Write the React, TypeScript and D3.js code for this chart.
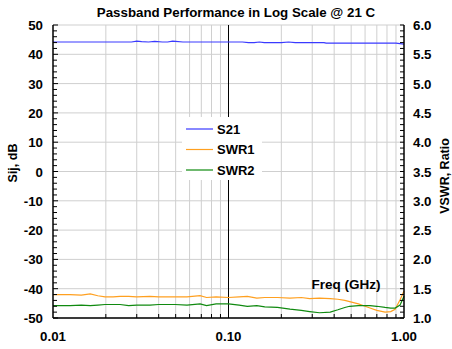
import React from 'react';
import * as d3 from 'd3';

const title = 'Passband Performance in Log Scale @ 21 C';
const leftTicks = [50, 40, 30, 20, 10, 0, -10, -20, -30, -40, -50];
const rightTicks = [6.0, 5.5, 5.0, 4.5, 4.0, 3.5, 3.0, 2.5, 2.0, 1.5, 1.0];
const xTickLabels = ['0.01', '0.10', '1.00'];
const xTickValues = [0.01, 0.1, 1];

// S21 in dB (left axis)
const s21Freq = [0.01, 0.02, 0.028, 0.03, 0.032, 0.035, 0.038, 0.042, 0.045, 0.048, 0.05, 0.055, 0.07, 0.1, 0.12, 0.13, 0.14, 0.15, 0.16, 0.2, 0.22, 0.24, 0.3, 0.35, 0.36, 0.5, 0.7, 0.9, 1.0];
const s21 = [44.2, 44.2, 44.2, 44.5, 44.3, 44.2, 44.4, 44.2, 44.2, 44.5, 44.4, 44.2, 44.2, 44.2, 44.2, 44.0, 44.0, 44.2, 44.0, 44.0, 44.2, 44.0, 44.0, 44.0, 43.8, 43.8, 43.8, 43.8, 43.5];

// VSWR ratio (right axis)
const swrFreq = [0.01, 0.0125, 0.0145, 0.0163, 0.018, 0.0198, 0.022, 0.0241, 0.027, 0.03, 0.0357, 0.04, 0.0496, 0.058, 0.0689, 0.075, 0.085, 0.1, 0.115, 0.128, 0.145, 0.161, 0.19, 0.224, 0.26, 0.29, 0.33, 0.38, 0.42, 0.46, 0.49, 0.55, 0.6, 0.64, 0.7, 0.78, 0.84, 0.89, 0.95, 1.0];
const swr1 = [1.40, 1.40, 1.39, 1.41, 1.38, 1.36, 1.36, 1.37, 1.37, 1.36, 1.37, 1.36, 1.36, 1.36, 1.38, 1.35, 1.36, 1.35, 1.36, 1.37, 1.34, 1.35, 1.35, 1.34, 1.35, 1.33, 1.34, 1.33, 1.32, 1.30, 1.28, 1.24, 1.20, 1.17, 1.13, 1.10, 1.11, 1.15, 1.31, 1.46];
const swr2 = [1.21, 1.21, 1.22, 1.21, 1.22, 1.23, 1.23, 1.23, 1.21, 1.22, 1.22, 1.23, 1.23, 1.22, 1.24, 1.21, 1.24, 1.24, 1.22, 1.20, 1.21, 1.19, 1.18, 1.15, 1.13, 1.11, 1.09, 1.10, 1.14, 1.18, 1.20, 1.21, 1.21, 1.21, 1.20, 1.18, 1.17, 1.17, 1.22, 1.37];

const seriesNames = ['S21', 'SWR1', 'SWR2'];
const seriesColors = ['#3a3aff', '#ffa020', '#108a10'];

const W = 452, H = 349;
const m = { left: 53, right: 404, top: 25, bottom: 318 };
const font = '"Liberation Sans", Arial, sans-serif';

export default function App() {
  const x = d3.scaleLog().domain([0.01, 1]).range([m.left, m.right]);
  const yL = d3.scaleLinear().domain([-50, 50]).range([m.bottom, m.top]);
  const yR = d3.scaleLinear().domain([1, 6]).range([m.bottom, m.top]);

  const minorX: number[] = [];
  [0.01, 0.1].forEach(d => { for (let k = 2; k <= 9; k++) minorX.push(d * k); });
  const minorL = d3.range(-50, 51, 2);
  const minorR = d3.range(1, 6.001, 0.1);

  const lineL = d3.line<number>().x((_, i) => x(s21Freq[i])).y(d => yL(d));
  const lineR = (f: number[]) => d3.line<number>().x((_, i) => x(f[i])).y(d => yR(d));

  const legend = { x: 182, y: 117, w: 80, h: 63 };

  return (
    <svg width={W} height={H} style={{ position: 'absolute', left: 0, top: 0, background: '#fff' }}
      fontFamily={font} fontWeight="bold">
      <text x={236} y={17} textAnchor="middle" fontSize={13.3}>{title}</text>
      {/* grid */}
      {leftTicks.map(t => (
        <line key={'h' + t} x1={m.left} x2={m.right} y1={yL(t)} y2={yL(t)} stroke="#cfcfcf" />
      ))}
      {minorX.map(f => (
        <line key={'v' + f} x1={x(f)} x2={x(f)} y1={m.top} y2={m.bottom} stroke="#cfcfcf" />
      ))}
      <line x1={x(0.1)} x2={x(0.1)} y1={m.top} y2={m.bottom} stroke="#000" />
      {/* legend box */}
      <rect x={legend.x} y={legend.y} width={legend.w} height={legend.h} fill="#fff" />
      {seriesNames.map((s, i) => (
        <g key={s}>
          <line x1={186} x2={213} y1={129 + i * 20.5} y2={129 + i * 20.5} stroke={seriesColors[i]} strokeWidth={1.2} />
          <text x={217} y={133.5 + i * 20.5} fontSize={13}>{s}</text>
        </g>
      ))}
      {/* data */}
      <path d={lineL(s21) || ''} fill="none" stroke={seriesColors[0]} strokeWidth={1.2} />
      <path d={lineR(swrFreq)(swr1) || ''} fill="none" stroke={seriesColors[1]} strokeWidth={1.2} />
      <path d={lineR(swrFreq)(swr2) || ''} fill="none" stroke={seriesColors[2]} strokeWidth={1.2} />
      {/* axes */}
      <line x1={m.left} x2={m.left} y1={m.top} y2={m.bottom} stroke="#000" strokeWidth={1.5} />
      <line x1={m.right} x2={m.right} y1={m.top} y2={m.bottom} stroke="#000" strokeWidth={1.5} />
      <line x1={m.left} x2={m.right} y1={m.bottom} y2={m.bottom} stroke="#000" strokeWidth={1.5} />
      {minorL.map(t => (
        <line key={'tl' + t} x1={m.left} x2={m.left + (t % 10 === 0 ? 5 : 4)} y1={yL(t)} y2={yL(t)} stroke="#000" />
      ))}
      {minorR.map(t => (
        <line key={'tr' + t} x1={m.right} x2={m.right - 4} y1={yR(t)} y2={yR(t)} stroke="#000" />
      ))}
      {minorX.map(f => (
        <line key={'tb' + f} x1={x(f)} x2={x(f)} y1={m.bottom} y2={m.bottom - 4} stroke="#000" />
      ))}
      {/* tick labels */}
      {leftTicks.map(t => (
        <text key={'ll' + t} x={43} y={yL(t) + 5} textAnchor="end" fontSize={13.3}>{t}</text>
      ))}
      {rightTicks.map(t => (
        <text key={'rl' + t} x={413} y={yR(t) + 5} textAnchor="start" fontSize={13.3}>{t.toFixed(1)}</text>
      ))}
      {xTickValues.map((v, i) => (
        <text key={'xl' + v} x={x(v)} y={341} textAnchor="middle" fontSize={13.3}>{xTickLabels[i]}</text>
      ))}
      <text x={346} y={289} textAnchor="middle" fontSize={13.5}>Freq (GHz)</text>
      <text transform={`translate(17,163) rotate(-90)`} textAnchor="middle" fontSize={12.5}>Sij, dB</text>
      <text transform={`translate(449,176) rotate(-90)`} textAnchor="middle" fontSize={12.5}>VSWR, Ratio</text>
    </svg>
  );
}
